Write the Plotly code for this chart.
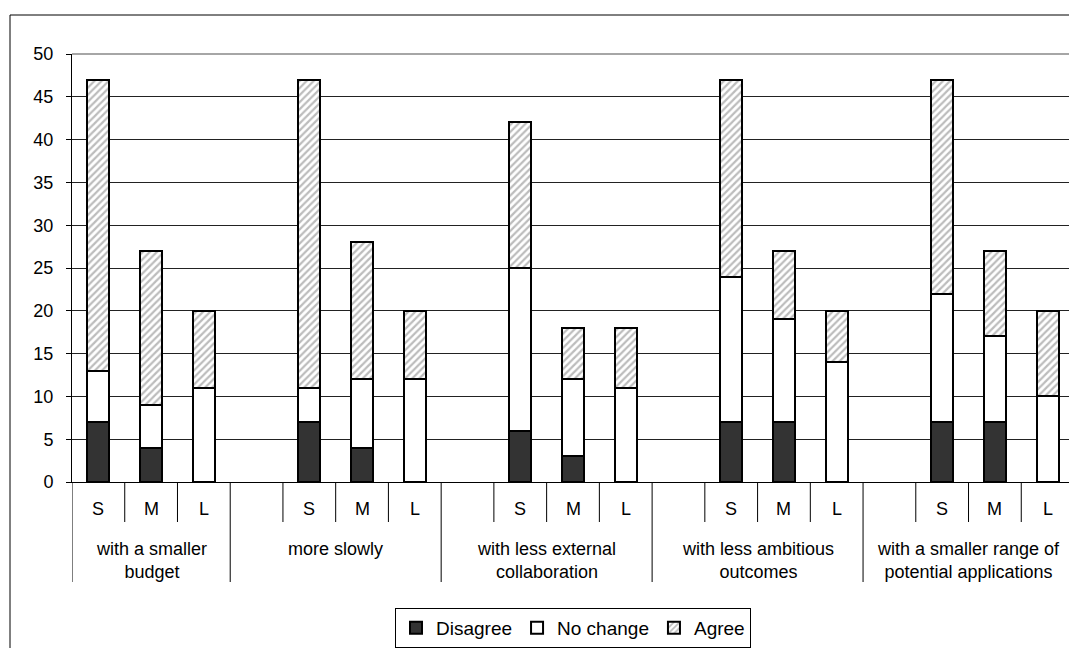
import plotly.graph_objects as go

groups = ["with a smaller<br>budget", "more slowly", "with less external<br>collaboration",
          "with less ambitious<br>outcomes", "with a smaller range of<br>potential applications"]
sizes = ["S", "M", "L"]

disagree = [7, 4, 0,  7, 4, 0,  6, 3, 0,  7, 7, 0,  7, 7, 0]
no_change = [6, 5, 11, 4, 8, 12, 19, 9, 11, 17, 12, 14, 15, 10, 10]
agree = [34, 18, 9, 36, 16, 8, 17, 6, 7, 23, 8, 6, 25, 10, 10]

# slot positions: each group has a leading blank slot except the first
xpos = [4 * g + k for g in range(len(groups)) for k in range(len(sizes))]
sub_labels = [s for g in groups for s in sizes]

FONT = "Liberation Sans, Arial, sans-serif"
FS = 18
OFF = 8  # page body margin
W, H = 1077 - OFF, 648 - OFF
L, T = 72 - OFF, 54 - OFF
R = W - (1074 - OFF)
B = H - (482 - OFF)
plot_h = H - T - B
plot_w = W - L - R

bar_line = dict(color="black", width=2)
fig = go.Figure()
fig.add_trace(go.Bar(x=xpos, y=disagree, name="Disagree", marker=dict(color="#333333", line=bar_line)))
fig.add_trace(go.Bar(x=xpos, y=no_change, name="No change", marker=dict(color="white", line=bar_line)))
fig.add_trace(go.Bar(x=xpos, y=agree, name="Agree",
                     marker=dict(color="white", line=bar_line,
                                 pattern=dict(shape="/", fgcolor="#7a7a7a", bgcolor="white",
                                              size=5, solidity=0.45))))

def py(pix):  # pixel offset below the x-axis -> paper y
    return -pix / plot_h

shapes = []
annotations = []
for g in range(len(groups)):
    subdiv = [4 * g + 0.5, 4 * g + 1.5] + ([4 * g - 0.5] if g > 0 else [])
    for xv in subdiv:
        shapes.append(dict(type="line", xref="x", yref="paper", x0=xv, x1=xv, y0=0, y1=py(40),
                           line=dict(color="black", width=1)))
    gx0 = -0.5 if g == 0 else 4 * g - 1.5
    gx1 = 4 * g + 2.5
    shapes.append(dict(type="line", xref="x", yref="paper", x0=gx1, x1=gx1, y0=0, y1=py(100),
                       line=dict(color="black", width=1)))
    annotations.append(dict(x=(gx0 + gx1) / 2, y=py(55), xref="x", yref="paper", text=groups[g],
                            showarrow=False, yanchor="top", xanchor="center",
                            font=dict(family=FONT, size=FS, color="black")))
shapes.append(dict(type="line", xref="x", yref="paper", x0=-0.5, x1=-0.5, y0=0, y1=py(100),
                   line=dict(color="black", width=1)))
for xv, s in zip(xpos, sub_labels):
    annotations.append(dict(x=xv, y=py(27), xref="x", yref="paper", text=s, showarrow=False,
                            yanchor="middle", xanchor="center",
                            font=dict(family=FONT, size=FS, color="black")))

# plot area border (gray top/right)
shapes.append(dict(type="line", xref="paper", yref="paper", x0=0, x1=1, y0=1, y1=1,
                   line=dict(color="#888888", width=1.5)))
shapes.append(dict(type="line", xref="paper", yref="paper", x0=1, x1=1, y0=0, y1=1,
                   line=dict(color="#888888", width=1.5)))
# outer frame
shapes.append(dict(type="rect", xref="paper", yref="paper",
                   x0=(10 - OFF - L) / plot_w, x1=(1090 - OFF - L) / plot_w,
                   y0=(T + plot_h - (660 - OFF)) / plot_h, y1=(T + plot_h - (15 - OFF)) / plot_h,
                   line=dict(color="black", width=1)))

fig.update_layout(
    width=W, height=H,
    margin=dict(l=L, r=R, t=T, b=B, autoexpand=False),
    barmode="stack", bargap=0.58,
    plot_bgcolor="white", paper_bgcolor="white",
    font=dict(family=FONT, size=FS, color="black"),
    xaxis=dict(range=[-0.5, 18.5], showticklabels=False, ticks="", showgrid=False,
               zeroline=False, showline=True, linecolor="black", linewidth=1, fixedrange=True),
    yaxis=dict(range=[0, 50], dtick=5, tick0=0, showgrid=True, gridcolor="#222222", gridwidth=1,
               zeroline=False, showline=True, linecolor="black", linewidth=1,
               ticks="outside", ticklen=5, tickcolor="black", ticklabelstandoff=9,
               tickfont=dict(family=FONT, size=FS, color="black")),
    legend=dict(orientation="h", x=0.5, xanchor="center", y=py(126), yanchor="top",
                bordercolor="black", borderwidth=1, bgcolor="white", itemwidth=30,
                font=dict(family=FONT, size=19, color="black"), traceorder="normal"),
    shapes=shapes, annotations=annotations, showlegend=True,
)

fig.write_html("out.html")
